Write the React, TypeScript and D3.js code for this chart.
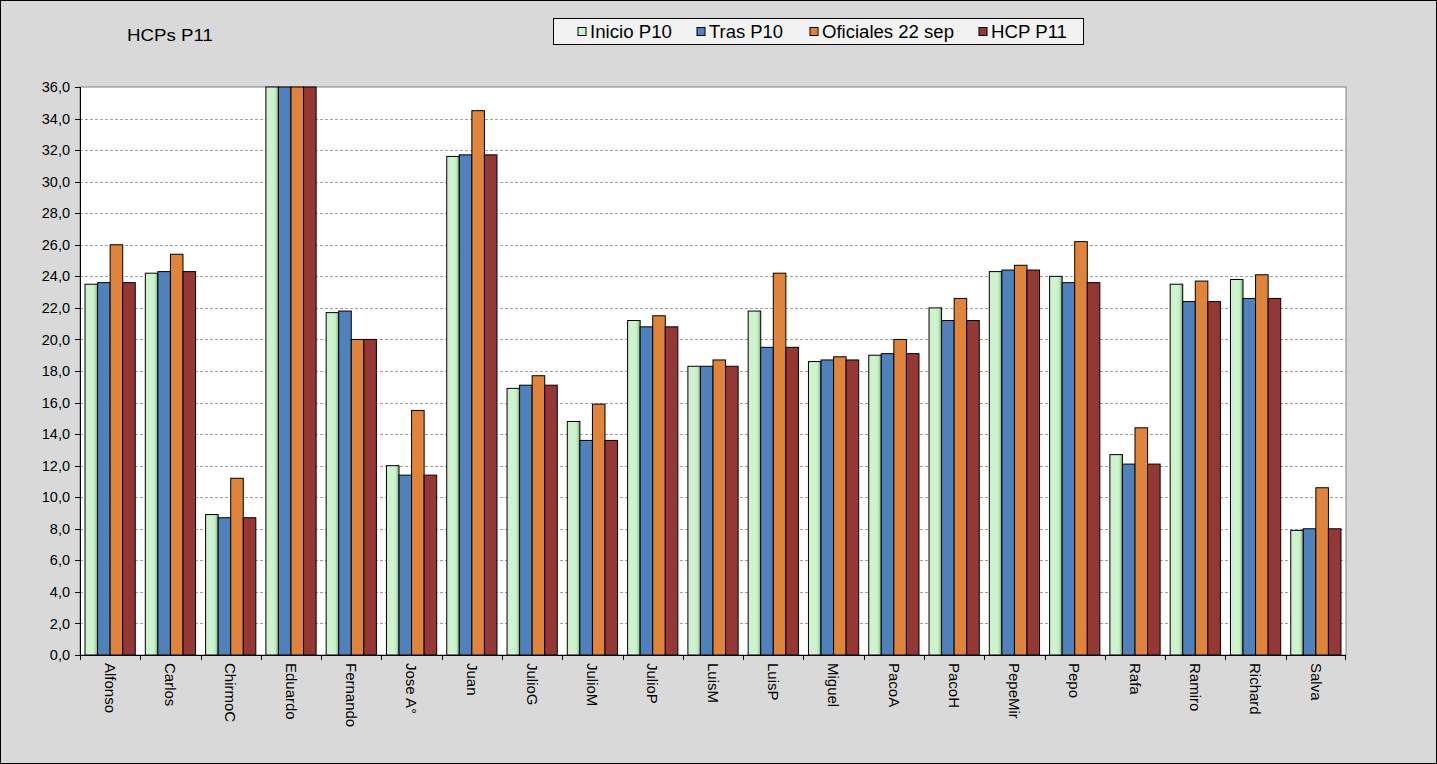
import React from "react";
import * as d3 from "d3";

const categories = ["Alfonso","Carlos","ChirmoC","Eduardo","Fernando","Jose A°","Juan","JulioG","JulioM","JulioP","LuisM","LuisP","Miguel","PacoA","PacoH","PepeMir","Pepo","Rafa","Ramiro","Richard","Salva"];
const seriesNames = ["Inicio P10","Tras P10","Oficiales 22 sep","HCP P11"];
const inicioP10 = [23.5,24.2,8.9,36,21.7,12.0,31.6,16.9,14.8,21.2,18.3,21.8,18.6,19.0,22.0,24.3,24.0,12.7,23.5,23.8,7.9];
const trasP10 = [23.6,24.3,8.7,36,21.8,11.4,31.7,17.1,13.6,20.8,18.3,19.5,18.7,19.1,21.2,24.4,23.6,12.1,22.4,22.6,8.0];
const oficiales22sep = [26.0,25.4,11.2,36,20.0,15.5,34.5,17.7,15.9,21.5,18.7,24.2,18.9,20.0,22.6,24.7,26.2,14.4,23.7,24.1,10.6];
const hcpP11 = [23.6,24.3,8.7,36,20.0,11.4,31.7,17.1,13.6,20.8,18.3,19.5,18.7,19.1,21.2,24.4,23.6,12.1,22.4,22.6,8.0];
const yTicks = [0,2,4,6,8,10,12,14,16,18,20,22,24,26,28,30,32,34,36];

const seriesValues = [inicioP10, trasP10, oficiales22sep, hcpP11];
const fills = ["url(#greenGrad)", "#4F81BD", "#E0843C", "#953735"];
const legendFills = ["#CCF5CC", "#4F81BD", "#E0843C", "#953735"];
const FONT = "'Liberation Sans', Arial, sans-serif";

export default function App() {
  const W = 1437, H = 764;
  const left = 80, right = 1346, top = 87, bottom = 655;
  const x0 = d3.scaleBand<string>().domain(categories).range([left, right]).padding(0);
  const step = x0.step();
  const groupW = step / 1.2;
  const off = (step - groupW) / 2;
  const x1 = d3.scaleBand<string>().domain(seriesNames).range([0, groupW]).padding(0);
  const y = d3.scaleLinear().domain([0, 36]).range([bottom, top]);
  const fmt = (v: number) => v.toFixed(1).replace(".", ",");

  const legendItems = [
    { mx: 578, tx: 590, w: 82 },
    { mx: 697, tx: 709, w: 74 },
    { mx: 810, tx: 822, w: 132 },
    { mx: 979, tx: 991, w: 76 },
  ];

  return (
    <svg width={W} height={H} style={{ position: "absolute", left: 0, top: 0, fontFamily: FONT }}>
      <defs>
        <linearGradient id="greenGrad" x1="0" x2="1" y1="0" y2="0">
          <stop offset="0%" stopColor="#D4EBD4" />
          <stop offset="50%" stopColor="#CCF7CC" />
          <stop offset="75%" stopColor="#C4EEC4" />
          <stop offset="100%" stopColor="#7FA87F" />
        </linearGradient>
      </defs>
      <rect x={0.5} y={0.5} width={W - 1} height={H - 1} fill="#D9D9D9" stroke="#000" strokeWidth={1} />
      <text x={127} y={41} fontSize={17} textLength={86} lengthAdjust="spacingAndGlyphs" fill="#000">HCPs P11</text>

      <rect x={left} y={top} width={right - left} height={bottom - top} fill="#fff" stroke="#808080" strokeWidth={1} />
      {yTicks.filter(t => t > 0 && t < 36).map(t => (
        <line key={"g" + t} x1={left} x2={right} y1={Math.round(y(t)) + 0.5} y2={Math.round(y(t)) + 0.5}
          stroke="#A0A0A0" strokeWidth={1} strokeDasharray="3,2" />
      ))}

      {categories.map((c, i) => (
        <g key={c} transform={`translate(${x0(c)! + off},0)`}>
          {seriesNames.map((s, j) => {
            const v = seriesValues[j][i];
            const yy = y(Math.min(v, 36));
            return (
              <rect key={s} x={x1(s)!} y={yy} width={x1.bandwidth()} height={bottom - yy}
                fill={fills[j]} stroke="#000" strokeWidth={1} />
            );
          })}
        </g>
      ))}

      <line x1={left + 0.5} x2={left + 0.5} y1={top} y2={bottom} stroke="#000" />
      <line x1={left} x2={right} y1={bottom + 0.5} y2={bottom + 0.5} stroke="#000" />
      {yTicks.map(t => (
        <g key={"t" + t}>
          <line x1={left - 5} x2={left} y1={Math.round(y(t)) + 0.5} y2={Math.round(y(t)) + 0.5} stroke="#000" />
          <text x={left - 10} y={y(t)} dy="0.35em" textAnchor="end" fontSize={14.5} fill="#000">{fmt(t)}</text>
        </g>
      ))}
      {categories.map((c) => (
        <line key={"xt" + c} x1={Math.round(x0(c)!) + 0.5} x2={Math.round(x0(c)!) + 0.5} y1={bottom} y2={bottom + 5} stroke="#000" />
      ))}
      <line x1={right - 0.5} x2={right - 0.5} y1={bottom} y2={bottom + 5} stroke="#000" />
      {categories.map(c => {
        const cx = x0(c)! + step / 2;
        return (
          <text key={"xl" + c} transform={`translate(${cx},${bottom + 8}) rotate(90)`}
            dy="0.35em" fontSize={15} fill="#000">{c}</text>
        );
      })}

      <rect x={553.5} y={18.5} width={530} height={26} fill="#F2F2F2" stroke="#000" strokeWidth={1} />
      {seriesNames.map((s, j) => (
        <g key={"lg" + s}>
          <rect x={legendItems[j].mx} y={27.5} width={8} height={8} fill={legendFills[j]} stroke="#000" strokeWidth={1} />
          <text x={legendItems[j].tx} y={38} fontSize={17.5} textLength={legendItems[j].w} lengthAdjust="spacingAndGlyphs" fill="#000">{s}</text>
        </g>
      ))}
    </svg>
  );
}
